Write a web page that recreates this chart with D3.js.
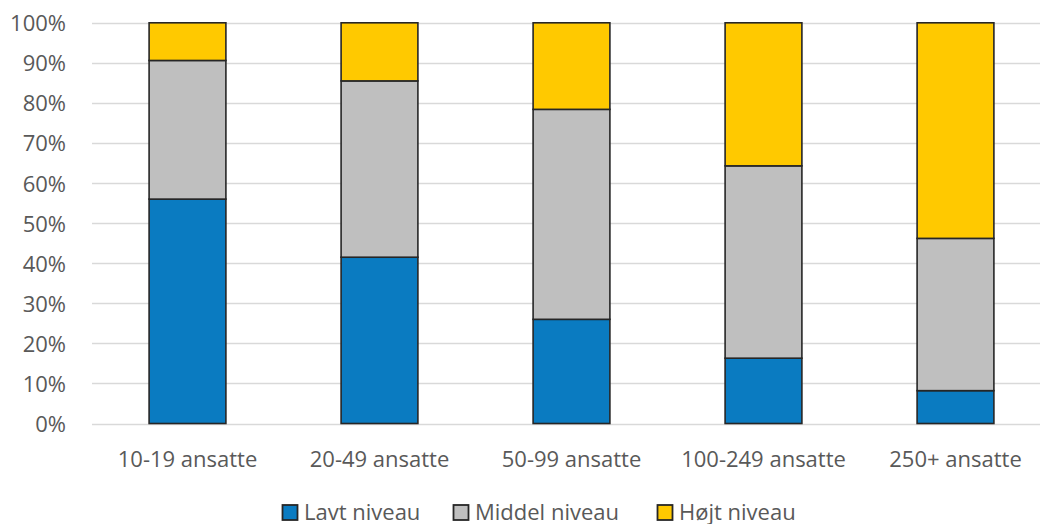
<!DOCTYPE html>
<html><head><meta charset="utf-8">
<script src="https://cdn.jsdelivr.net/npm/d3@7"></script>
<style>body{margin:0;background:#fff}svg{display:block}</style>
</head><body>
<svg id="c" width="1040" height="524"></svg>
<script>
const categories = ["10-19 ansatte","20-49 ansatte","50-99 ansatte","100-249 ansatte","250+ ansatte"];
const seriesNames = ["Lavt niveau","Middel niveau","Højt niveau"];
const lavt = [56.0, 41.5, 26.0, 16.3, 8.2];
const middel = [34.6, 44.0, 52.4, 48.0, 38.0];
const hoejt = [9.4, 14.5, 21.6, 35.7, 53.8];
const yTicks = [0,10,20,30,40,50,60,70,80,90,100];
const colors = ["#0A7BC1","#BFBFBF","#FFC900"];

const svg = d3.select("#c");
const font = "'Open Sans', 'Segoe UI', sans-serif";
const x = d3.scaleBand().domain(categories).range([91.5, 1051.5]).paddingInner(0.6).paddingOuter(0.3);
const y = d3.scaleLinear().domain([0,100]).range([423.5, 22.8]);

const rows = categories.map((c,i)=>({cat:c, "Lavt niveau":lavt[i], "Middel niveau":middel[i], "Højt niveau":hoejt[i]}));
const stack = d3.stack().keys(seriesNames)(rows);

// gridlines
svg.append("g").selectAll("line").data(yTicks).join("line")
  .attr("x1",92).attr("x2",1040)
  .attr("y1",d=>Math.round(y(d))+0.5).attr("y2",d=>Math.round(y(d))+0.5)
  .attr("stroke","#D9D9D9").attr("stroke-width",1.5);

// y axis labels
const yAxis = d3.axisLeft(y).tickValues(yTicks).tickFormat(d=>d+"%").tickSize(0).tickPadding(0);
const ya = svg.append("g").attr("transform","translate(66,0)").call(yAxis);
ya.select(".domain").remove();
ya.selectAll("text").attr("font-family",font).attr("font-size",22).attr("fill","#595959").attr("dy","0.36em");

// bars
svg.append("g").selectAll("g").data(stack).join("g")
  .attr("fill",(d,i)=>colors[i])
  .selectAll("rect").data(d=>d).join("rect")
  .attr("x",d=>x(d.data.cat)).attr("width",x.bandwidth())
  .attr("y",d=>y(d[1])).attr("height",d=>y(d[0])-y(d[1]))
  .attr("stroke","#262626").attr("stroke-width",1.6);

// x axis labels
const xAxis = d3.axisBottom(x).tickSize(0).tickPadding(0);
const xa = svg.append("g").attr("transform","translate(0,0)").call(xAxis);
xa.select(".domain").remove();
xa.selectAll("text").attr("font-family",font).attr("font-size",22).attr("fill","#595959").attr("dy",null).attr("y",466.5);

// legend
const legX = [282, 453, 657];
const lg = svg.append("g").selectAll("g").data(seriesNames).join("g")
  .attr("transform",(d,i)=>`translate(${legX[i]},0)`);
lg.append("rect").attr("x",0.5).attr("y",505).attr("width",15).attr("height",15)
  .attr("fill",(d,i)=>colors[i]).attr("stroke","#262626").attr("stroke-width",1.8);
lg.append("text").attr("x",22).attr("y",519.5).text(d=>d)
  .attr("font-family",font).attr("font-size",22).attr("fill","#595959");
</script>
</body></html>
